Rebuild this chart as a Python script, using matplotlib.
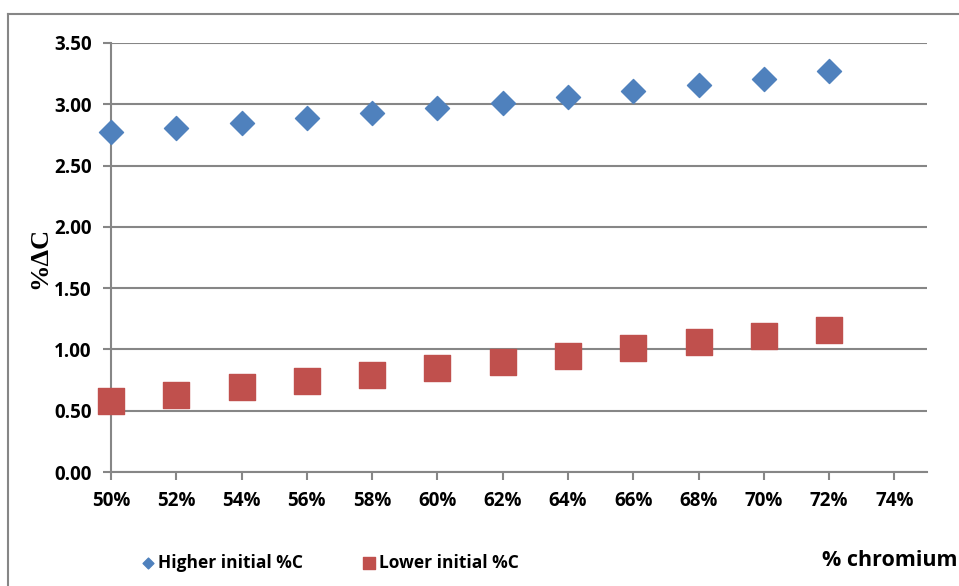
import numpy as np
import matplotlib.pyplot as plt
from matplotlib.lines import Line2D
from matplotlib.ticker import FuncFormatter

# chromium fraction and %dC for the two starting carbon levels
chromium = [0.50, 0.52, 0.54, 0.56, 0.58, 0.60, 0.62, 0.64, 0.66, 0.68, 0.70, 0.72]
higher_c = [2.77, 2.81, 2.85, 2.89, 2.93, 2.97, 3.01, 3.06, 3.11, 3.16, 3.21, 3.27]
lower_c = [0.58, 0.63, 0.69, 0.74, 0.79, 0.85, 0.90, 0.95, 1.01, 1.06, 1.11, 1.16]
x_ticks = [0.50, 0.52, 0.54, 0.56, 0.58, 0.60, 0.62, 0.64, 0.66, 0.68, 0.70, 0.72, 0.74]
y_ticks = [0.0, 0.5, 1.0, 1.5, 2.0, 2.5, 3.0, 3.5]

W, H = 959, 586
fig = plt.figure(figsize=(W / 100, H / 100), dpi=100)
ax = fig.add_axes([111 / W, 1 - 472 / H, (927 - 111) / W, (472 - 43) / H])

grey = '#868686'
font = 'Open Sans'

ax.scatter(chromium, higher_c, marker='D', s=150, color='#4F81BD', zorder=3,
           clip_on=False, label='Higher initial %C')
ax.scatter(chromium, lower_c, marker='s', s=330, color='#C0504D', zorder=3,
           clip_on=False, label='Lower initial %C')

ax.set_xlim(0.50, 0.75)
ax.set_ylim(0, 3.5)
ax.set_xticks(x_ticks)
ax.set_yticks(y_ticks)
ax.xaxis.set_major_formatter(FuncFormatter(lambda v, p: f'{v * 100:.0f}%'))
ax.yaxis.set_major_formatter(FuncFormatter(lambda v, p: f'{v:.2f}'))
ax.grid(axis='y', color=grey, linewidth=1.5)
ax.set_axisbelow(True)

for s in ['top', 'right']:
    ax.spines[s].set_visible(False)
for s in ['left', 'bottom']:
    ax.spines[s].set_color(grey)
    ax.spines[s].set_linewidth(1.5)
ax.spines['left'].set_zorder(2.5)

ax.tick_params(axis='x', direction='out', length=6, width=1.5, color=grey, pad=8)
ax.tick_params(axis='y', direction='out', length=6, width=1.5, color=grey, pad=8)
for lab in ax.get_xticklabels() + ax.get_yticklabels():
    lab.set_fontfamily(font)
    lab.set_fontweight('bold')
    lab.set_fontsize(13.5)

fig.text(40 / W, 1 - 258 / H, '%ΔC', rotation=90, ha='center', va='center',
         fontfamily='Liberation Serif', fontweight='bold', fontsize=19)
fig.text(822 / W, 1 - 560 / H, '% chromium', ha='left', va='center',
         fontfamily=font, fontweight='bold', fontsize=15.5)

leg = fig.legend(loc='center left', bbox_to_anchor=(125 / W, 1 - 563 / H), ncol=2,
                 frameon=False, handletextpad=0.2, columnspacing=3.4,
                 markerscale=0.45, handlelength=0.8,
                 prop={'family': font, 'weight': 'bold', 'size': 12.5})

# outer chart border (clipped by the image on the right and bottom)
fig.add_artist(Line2D([8 / W, 8 / W], [0, 1 - 14 / H], color=grey, linewidth=1.5))
fig.add_artist(Line2D([8 / W, 1], [1 - 14 / H, 1 - 14 / H], color=grey, linewidth=1.5))

fig.savefig('out.png', dpi=100)
